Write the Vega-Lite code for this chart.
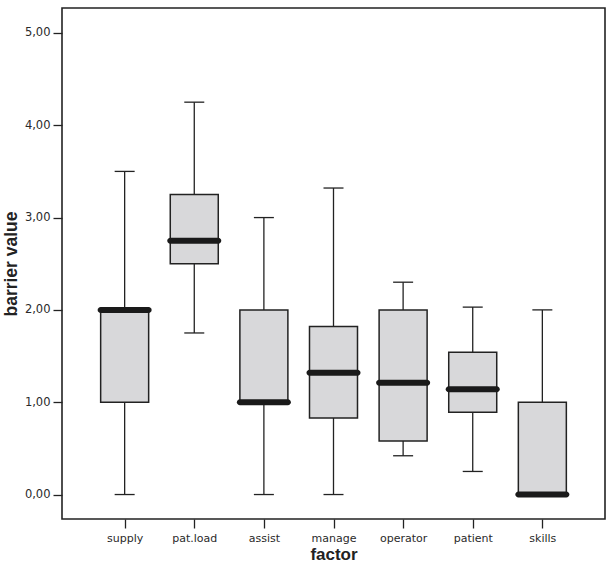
{
  "$schema": "https://vega.github.io/schema/vega-lite/v6.json",
  "width": 543,
  "height": 511,
  "autosize": "none",
  "padding": {"left": 62, "top": 8, "right": 6, "bottom": 56},
  "background": "white",
  "config": {
    "view": {"stroke": "#222222", "strokeWidth": 1.6},
    "font": "Liberation Sans"
  },
  "data": {
    "values": [
      {"factor": "supply", "lower": 0, "q1": 1.0, "median": 2.0, "q3": 2.0, "upper": 3.5},
      {"factor": "pat.load", "lower": 1.75, "q1": 2.5, "median": 2.75, "q3": 3.25, "upper": 4.25},
      {"factor": "assist", "lower": 0, "q1": 1.0, "median": 1.0, "q3": 2.0, "upper": 3.0},
      {"factor": "manage", "lower": 0, "q1": 0.83, "median": 1.32, "q3": 1.82, "upper": 3.32},
      {"factor": "operator", "lower": 0.42, "q1": 0.58, "median": 1.21, "q3": 2.0, "upper": 2.3},
      {"factor": "patient", "lower": 0.25, "q1": 0.89, "median": 1.14, "q3": 1.54, "upper": 2.03},
      {"factor": "skills", "lower": 0, "q1": 0, "median": 0, "q3": 1.0, "upper": 2.0}
    ]
  },
  "encoding": {
    "x": {
      "field": "factor",
      "type": "nominal",
      "sort": null,
      "scale": {"type": "point", "padding": 0.9},
      "axis": {
        "title": "factor",
        "titleFont": "Liberation Sans",
        "titleFontSize": 17,
        "titleFontWeight": "bold",
        "titleColor": "#222222",
        "titlePadding": 3,
        "labelFont": "DejaVu Sans",
        "labelFontSize": 11,
        "labelColor": "#2a2a2a",
        "labelAngle": 0,
        "labelPadding": 4,
        "tickSize": 9,
        "tickColor": "#222222",
        "tickWidth": 1.3,
        "domain": false,
        "grid": false
      }
    }
  },
  "layer": [
    {
      "mark": {"type": "rule", "color": "#222222", "strokeWidth": 1.3},
      "encoding": {
        "y": {
          "field": "lower",
          "type": "quantitative",
          "scale": {"domain": [-0.265, 5.27], "nice": false, "zero": false},
          "axis": {
            "title": "barrier value",
            "titleFont": "Liberation Sans",
            "titleFontSize": 17.5,
            "titleFontWeight": "bold",
            "titleColor": "#222222",
            "titlePadding": 4,
            "values": [0, 1, 2, 3, 4, 5],
            "labelExpr": "replace(format(datum.value, '.2f'), '.', ',')",
            "labelFont": "DejaVu Sans",
            "labelFontSize": 11.5,
            "labelColor": "#2a2a2a",
            "labelPadding": 3,
            "tickSize": 9,
            "tickColor": "#222222",
            "tickWidth": 1.3,
            "domain": false,
            "grid": false
          }
        },
        "y2": {"field": "upper"}
      }
    },
    {
      "mark": {"type": "tick", "color": "#222222", "size": 20, "thickness": 1.3, "opacity": 1},
      "encoding": {"y": {"field": "lower", "type": "quantitative"}}
    },
    {
      "mark": {"type": "tick", "color": "#222222", "size": 20, "thickness": 1.3, "opacity": 1},
      "encoding": {"y": {"field": "upper", "type": "quantitative"}}
    },
    {
      "mark": {"type": "bar", "size": 48, "fill": "#d8d8da", "stroke": "#222222", "strokeWidth": 1.5},
      "encoding": {
        "y": {"field": "q1", "type": "quantitative"},
        "y2": {"field": "q3"}
      }
    },
    {
      "mark": {"type": "tick", "color": "#1a1a1a", "size": 54, "thickness": 6, "cornerRadius": 3, "opacity": 1},
      "encoding": {"y": {"field": "median", "type": "quantitative"}}
    }
  ]
}
